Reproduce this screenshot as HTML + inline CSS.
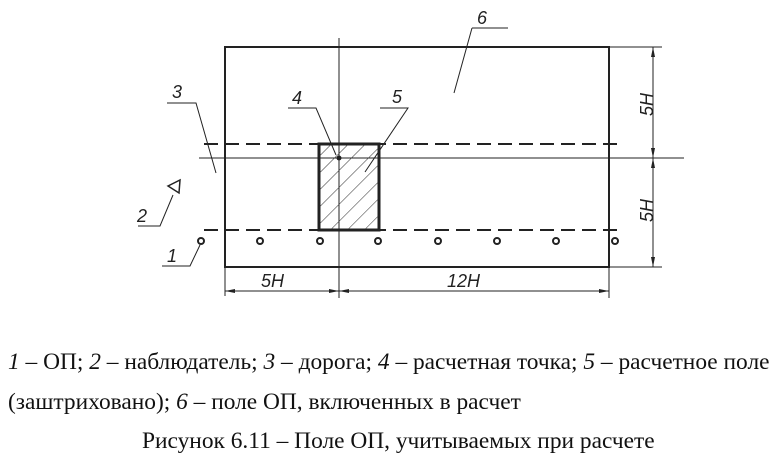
<!DOCTYPE html>
<html><head><meta charset="utf-8"><style>
html,body{margin:0;padding:0;background:#fff}
.t{position:absolute;white-space:nowrap;font-family:"Liberation Serif",serif;font-size:23.4px;line-height:24px;color:#111}
.t i{font-style:italic}
</style></head>
<body>
<div style="position:relative;width:780px;height:461px;overflow:hidden">
<svg width="780" height="461" viewBox="0 0 780 461" xmlns="http://www.w3.org/2000/svg" style="position:absolute;left:0;top:0">
<defs>
<pattern id="h" patternUnits="userSpaceOnUse" width="12" height="12" patternTransform="rotate(45)">
<line x1="0" y1="0" x2="0" y2="12" stroke="#333" stroke-width="1"/>
</pattern>
</defs>
<g stroke="#222" fill="none">
<rect x="225" y="47" width="384" height="220" stroke-width="2"/>
<line x1="339" y1="38" x2="339" y2="298" stroke-width="1"/>
<line x1="199" y1="158" x2="684" y2="158" stroke-width="1"/>
<line x1="204" y1="144" x2="622" y2="144" stroke-width="2" stroke-dasharray="14,7"/>
<line x1="204" y1="230" x2="622" y2="230" stroke-width="2" stroke-dasharray="14,7"/>
<rect x="319" y="144" width="60" height="86" fill="url(#h)" stroke-width="3"/>
<g stroke-width="2">
<circle cx="201" cy="241" r="3"/><circle cx="260" cy="241" r="3"/><circle cx="320" cy="241" r="3"/><circle cx="378" cy="241" r="3"/>
<circle cx="438" cy="241" r="3"/><circle cx="497" cy="241" r="3"/><circle cx="556" cy="241" r="3"/><circle cx="615" cy="241" r="3"/>
</g>
<g stroke-width="1">
<line x1="225" y1="267" x2="225" y2="296"/><line x1="609" y1="267" x2="609" y2="298"/>
<line x1="225" y1="291" x2="609" y2="291"/>
<line x1="609" y1="47" x2="662" y2="47"/><line x1="609" y1="267" x2="662" y2="267"/>
<line x1="653" y1="47" x2="653" y2="267"/>
<polyline points="472,28 508,28"/><polyline points="472,28 454,93"/>
<polyline points="167,103 196,103 216,173"/>
<polyline points="288,108 316,108 336,155"/>
<polyline points="380,108 408,108 365,172"/>
<polyline points="138,226 160,226 173,195"/>
<polyline points="162,266 190,266 200,245"/>
<polygon points="168,186 180,180 179,193" stroke-width="1.5"/>
</g>
</g>
<g fill="#222">
<circle cx="339" cy="158" r="2.5"/>
<polygon points="225,291 235,289 235,293"/><polygon points="339,291 329,289 329,293"/>
<polygon points="339,291 349,289 349,293"/><polygon points="609,291 599,289 599,293"/>
<polygon points="653,47 651,57 655,57"/><polygon points="653,158 651,148 655,148"/>
<polygon points="653,158 651,168 655,168"/><polygon points="653,267 651,257 655,257"/>
</g>
<g font-family="'Liberation Sans', sans-serif" font-style="italic" font-size="18" fill="#222">
<text x="477" y="24">6</text><text x="172" y="98">3</text><text x="292" y="104">4</text>
<text x="392" y="103">5</text><text x="137" y="222">2</text><text x="167" y="262">1</text>
<text x="261" y="287">5H</text><text x="447" y="287">12H</text>
<text transform="translate(653,116) rotate(-90)">5H</text>
<text transform="translate(653,222) rotate(-90)">5H</text>
</g>
</svg>
<div class="t" style="left:8px;top:350px"><i>1</i> – ОП; <i>2</i> – наблюдатель; <i>3</i> – дорога; <i>4</i> – расчетная точка; <i>5</i> – расчетное поле</div>
<div class="t" style="left:8px;top:390px">(заштриховано); <i>6</i> – поле ОП, включенных в расчет</div>
<div class="t" style="left:142px;top:429px">Рисунок 6.11 – Поле ОП, учитываемых при расчете</div>
</div>
</body></html>
